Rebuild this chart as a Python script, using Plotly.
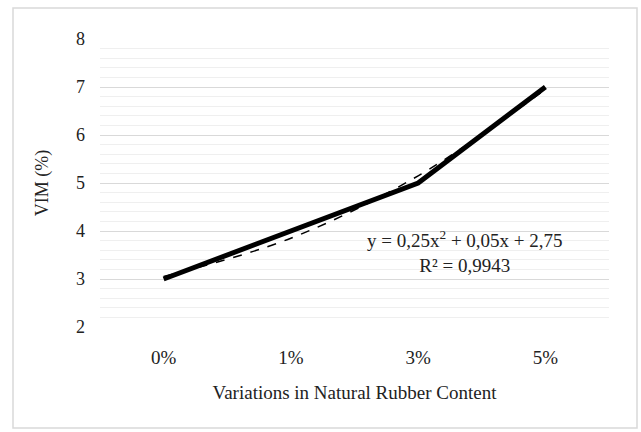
import plotly.graph_objects as go

categories = ["0%", "1%", "3%", "5%"]
vim = [3, 4, 5, 7]
trend = [3.05, 3.85, 5.15, 6.95]
y_ticks = [2, 3, 4, 5, 6, 7, 8]

FONT = "Times New Roman, Liberation Serif, DejaVu Serif, serif"
fig = go.Figure()
fig.add_trace(go.Scatter(x=categories, y=trend, mode="lines", line=dict(color="black", width=1.5, dash="dash", shape="spline"), showlegend=False))
fig.add_trace(go.Scatter(x=categories, y=vim, mode="lines", line=dict(color="black", width=5), showlegend=False))

fig.update_layout(
    width=641, height=432,
    margin=dict(l=100, r=32, t=39, b=105),
    paper_bgcolor="white", plot_bgcolor="white",
    font=dict(family=FONT, size=19, color="#222"),
    xaxis=dict(type="category", range=[-0.5, 3.5], showgrid=False, zeroline=False,
               showline=False, ticks="", ticklabelstandoff=17,
               tickfont=dict(family=FONT, size=19, color="#222"),
               title=dict(text="Variations in Natural Rubber Content", standoff=18, font=dict(family=FONT, size=19, color="#222"))),
    yaxis=dict(range=[2, 8], tickvals=y_ticks, showgrid=True, gridcolor="#d9d9d9", gridwidth=1.2,
               zeroline=False, showline=False, ticks="", ticklabelstandoff=14,
               tickfont=dict(family=FONT, size=18, color="#222"),
               minor=dict(dtick=0.2, showgrid=True, gridcolor="#efefef", gridwidth=1),
               title=dict(text="VIM (%)", standoff=22, font=dict(family=FONT, size=18, color="#222"))),
    annotations=[
        dict(x=2.37, y=3.58, xref="x", yref="y", text="y = 0,25x<sup>2</sup> + 0,05x + 2,75<br>R² = 0,9943",
             showarrow=False, font=dict(family=FONT, size=19, color="#222"), align="center")
    ],
    shapes=[dict(type="rect", xref="paper", yref="paper",
                 x0=(13 - 100) / 509, x1=(637 - 100) / 509, y0=(327 - 428) / 288, y1=(327 - 8) / 288,
                 line=dict(color="#d9d9d9", width=1.5), fillcolor="rgba(0,0,0,0)")],
)
fig.write_html("out.html")
